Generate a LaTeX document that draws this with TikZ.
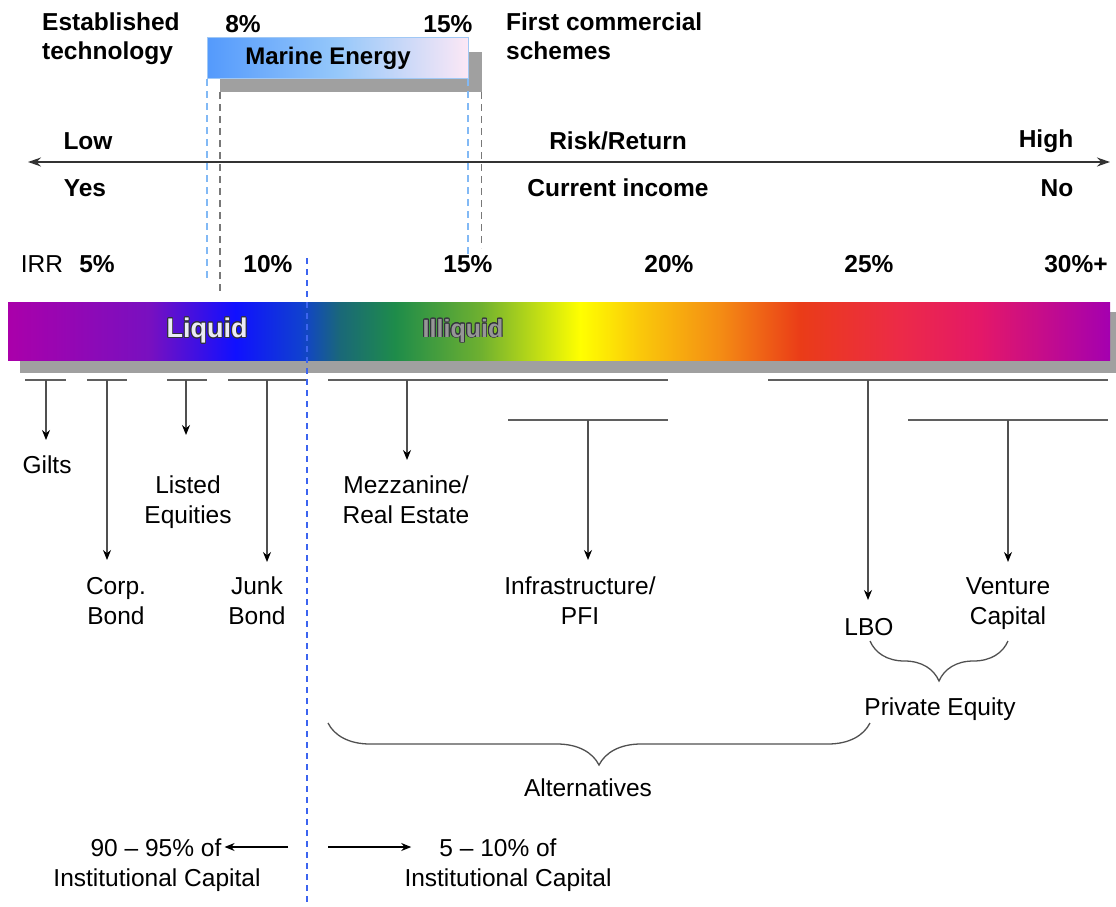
\documentclass[tikz,border=0pt]{standalone}
\usepackage{fontspec}
\setmainfont{Liberation Sans}
\usepackage{contour}
\contourlength{0.9pt}
\usetikzlibrary{arrows.meta,decorations.pathreplacing}

\definecolor{mleft}{RGB}{84,154,252}
\definecolor{mmid}{RGB}{150,200,250}
\definecolor{mright}{RGB}{252,232,246}
\definecolor{mborder}{RGB}{160,200,245}
\definecolor{shadowgray}{RGB}{160,160,160}
\definecolor{tickgray}{RGB}{95,95,95}
\definecolor{stemgray}{RGB}{80,80,80}
\definecolor{guideblue}{RGB}{130,185,245}
\definecolor{guidegray}{RGB}{120,120,120}
\definecolor{splitblue}{RGB}{60,100,240}
\definecolor{liquidtext}{RGB}{235,235,245}
\definecolor{illiquidtext}{RGB}{150,150,150}
\definecolor{outline}{RGB}{50,50,60}

\pgfdeclarehorizontalshading{spectrum}{100bp}{%
  rgb(0bp)=(0.667,0,0.667); rgb(25bp)=(0.667,0,0.667);
  rgb(31.44bp)=(0.471,0.063,0.753); rgb(35.3bp)=(0.063,0.063,1);
  rgb(38.25bp)=(0.063,0.251,0.816); rgb(40.06bp)=(0.102,0.408,0.471);
  rgb(42.56bp)=(0.118,0.549,0.29); rgb(46.42bp)=(0.431,0.69,0.188);
  rgb(50.95bp)=(1,1,0); rgb(53.68bp)=(0.98,0.784,0.039);
  rgb(57.3bp)=(0.957,0.549,0.078); rgb(60.93bp)=(0.918,0.235,0.094);
  rgb(65.47bp)=(0.925,0.165,0.282); rgb(69.1bp)=(0.894,0.094,0.408);
  rgb(75bp)=(0.643,0,0.69); rgb(100bp)=(0.643,0,0.69)}

\tikzset{
  txt/.style={font=\fontsize{24.5}{30}\selectfont, align=center, inner sep=1pt},
  btxt/.style={font=\fontsize{24.5}{29}\selectfont\bfseries, align=center, inner sep=1pt},
  bar tick/.style={draw=tickgray, line width=2.5pt},
  stem/.style={draw=stemgray, line width=1.3pt, -{Stealth[length=10pt,width=8pt,black]}},
  side arrow/.style={draw=black, line width=1.2pt, -{Stealth[length=10pt,width=8pt]}},
  guide/.style={dashed, dash pattern=on 7pt off 5pt, line width=#1},
  pbrace/.style={decorate, decoration={brace, mirror, amplitude=#1}, draw=stemgray, line width=1.3pt},
}

\begin{document}
\begin{tikzpicture}[x=1pt,y=-1pt]
\useasboundingbox (0,0) rectangle (1116,907);

% header
\node[btxt, align=left, anchor=north west] (established) at (41,12) {Established\\technology};
\node[btxt] (lowpct) at (243,24) {8\%};
\node[btxt] (highpct) at (448,24) {15\%};
\node[btxt, align=left, anchor=north west] (firstcom) at (505,12) {First commercial\\schemes};

% marine energy box
\node[fill=shadowgray, minimum width=262pt, minimum height=40pt, inner sep=0pt, anchor=north west] (mshadow) at (220,52) {};
\node[draw=mborder, line width=1pt, left color=mleft, right color=mright, middle color=mmid,
      minimum width=261pt, minimum height=41pt, inner sep=0pt, anchor=north west,
      font=\fontsize{24}{28}\selectfont\bfseries] (marine) at (207,37) {\hspace*{-20pt}Marine Energy};
\draw[guide=2pt, guideblue] (marine.south west) -- ++(0,202);
\draw[guide=2pt, guideblue] ([xshift=-1pt]marine.south east) -- ++(0,179);
\draw[guide=1.3pt, guidegray] (mshadow.south west) -- ++(0,201);
\draw[guide=1.3pt, guidegray] ([xshift=-1pt]mshadow.south east) -- ++(0,156);

% risk axis
\coordinate (lowend) at (28,162);
\coordinate (highend) at (1110,162);
\draw[line width=1.5pt, draw=black!80, {Stealth[length=13pt,width=9pt]}-{Stealth[length=13pt,width=9pt]}] (lowend) -- (highend);
\node[btxt] (low) at (88,141) {Low};
\node[btxt] (risk) at (618,141) {Risk/Return};
\node[btxt] (high) at (1046,141) {High};
\node[btxt] (yes) at (85,188) {Yes};
\node[btxt] (income) at (618,188) {Current income};
\node[btxt] (no) at (1057,188) {No};

% IRR scale
\node[txt] (irr) at (42,264) {IRR};
\node[btxt] (irr5) at (97,264) {5\%};
\node[btxt] (irr10) at (268,264) {10\%};
\node[btxt] (irr15) at (468,264) {15\%};
\node[btxt] (irr20) at (669,264) {20\%};
\node[btxt] (irr25) at (869,264) {25\%};
\node[btxt] (irr30) at (1076,264) {30\%+};

% spectrum bar
\fill[shadowgray] (20,312) rectangle (1116,373);
\node[shading=spectrum, minimum width=1102pt, minimum height=58pt, inner sep=0pt, anchor=north west] (bar) at (8,302) {};
\node[font=\fontsize{27}{30}\selectfont\bfseries, text=liquidtext] (liquid) at (207,331) {\contour{outline}{Liquid}};
\node[font=\fontsize{25}{30}\selectfont\bfseries, text=illiquidtext] (illiquid) at (463,331) {\contour{outline}{Illiquid}};

% split line
\coordinate (splittop) at (307,258);
\coordinate (splitbot) at (307,907);
\draw[guide=1.5pt, splitblue, dash pattern=on 6pt off 5pt] (splittop) -- (splitbot);

% asset classes
\draw[bar tick] (25,380) -- (66,380);
\draw[bar tick] (87,380) -- (127,380);
\draw[bar tick] (167,380) -- (207,380);
\draw[bar tick] (228,380) -- (306,380);
\draw[bar tick] (328,380) -- (668,380);
\draw[bar tick] (508,420) -- (668,420);
\draw[bar tick] (768,380) -- (1108,380);
\draw[bar tick] (908,420) -- (1108,420);

\coordinate (giltstop) at (46,380);
\coordinate (corptop) at (107,380);
\coordinate (listedtop) at (186,380);
\coordinate (junktop) at (267,380);
\coordinate (mezztop) at (407,380);
\coordinate (infratop) at (588,420);
\coordinate (lbotop) at (868,380);
\coordinate (venturetop) at (1008,420);

\node[txt, anchor=north] (gilts) at (47,455) {Gilts};
\node[txt, anchor=north] (listed) at (188,475) {Listed\\Equities};
\node[txt, anchor=north] (corp) at (116,576) {Corp.\\Bond};
\node[txt, anchor=north] (junk) at (257,576) {Junk\\Bond};
\node[txt, anchor=north] (mezz) at (406,475) {Mezzanine/\\Real Estate};
\node[txt, anchor=north] (infra) at (580,576) {Infrastructure/\\PFI};
\node[txt, anchor=north] (lbo) at (869,617) {LBO};
\node[txt, anchor=north] (venture) at (1008,576) {Venture\\Capital};

\draw[stem, shorten >=15pt] (giltstop) -- (giltstop |- gilts.north);
\draw[stem, shorten >=40pt] (listedtop) -- (listedtop |- listed.north);
\draw[stem, shorten >=16pt] (corptop) -- (corptop |- corp.north);
\draw[stem, shorten >=14pt] (junktop) -- (junktop |- junk.north);
\draw[stem, shorten >=15pt] (mezztop) -- (mezztop |- mezz.north);
\draw[stem, shorten >=16pt] (infratop) -- (infratop |- infra.north);
\draw[stem, shorten >=17pt] (lbotop) -- (lbotop |- lbo.north);
\draw[stem, shorten >=14pt] (venturetop) -- (venturetop |- venture.north);

% groupings
\coordinate (pestart) at (870,641);
\coordinate (peend) at (1008,641);
\draw[pbrace=40pt] (pestart) -- (peend);
\node[txt, anchor=north] (pe) at (940,697) {Private Equity};
\coordinate (altstart) at (328,723);
\coordinate (altend) at (870,723);
\draw[pbrace=42pt] (altstart) -- (altend);
\node[txt, anchor=north] (alt) at (588,778) {Alternatives};

% share of capital
\node[txt, anchor=north] (pctleft) at (156,838) {90 -- 95\% of};
\node[txt, anchor=north] (capleft) at (157,868) {Institutional Capital};
\node[txt, anchor=north] (pctright) at (498,838) {5 -- 10\% of};
\node[txt, anchor=north] (capright) at (508,868) {Institutional Capital};
\coordinate (lstart) at (288,847);
\coordinate (rstart) at (328,847);
\draw[side arrow, shorten >=2pt] (lstart) -- (lstart -| pctleft.east);
\draw[side arrow, shorten >=27pt] (rstart) -- (rstart -| pctright.west);
\end{tikzpicture}
\end{document}
